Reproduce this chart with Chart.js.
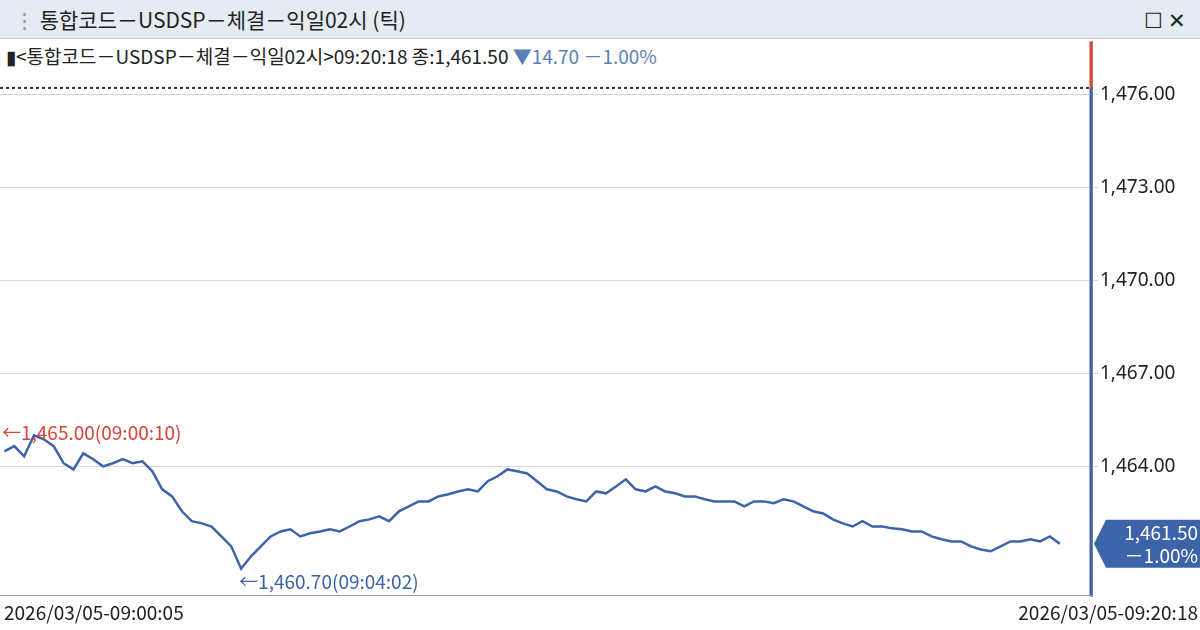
<!DOCTYPE html>
<html><head><meta charset="utf-8">
<script src="https://cdn.jsdelivr.net/npm/chart.js@4/dist/chart.umd.min.js"></script>
<style>
body{margin:0;width:1200px;height:630px;background:#fff;font-family:"Noto Sans CJK KR","Noto Sans",sans-serif;overflow:hidden;position:relative}
#bar{position:absolute;left:0;top:0;width:1200px;height:38px;background:#e4ebf3;border-bottom:1px solid #c6d0dc;font-size:21px;color:#222;line-height:38px;z-index:3}
#bar span{margin-left:14px}
#hdr{position:absolute;left:6px;top:42px;font-size:19px;color:#222;z-index:2;background:#fff}
#hdr .b{color:#5a7fb5}
#wrap{position:absolute;left:0;top:28px;width:1200px;height:582px}
.bot{position:absolute;top:598px;font-size:19px;color:#222}
#line{position:absolute;left:0;top:595px;width:1092px;height:1px;background:#999}
</style></head><body>
<div id="bar"><span style="color:#999">⋮</span> 통합코드－USDSP－체결－익일02시 (틱)<span style="position:absolute;right:14px;top:0">☐ ✕</span></div>
<div id="hdr">▮&lt;통합코드－USDSP－체결－익일02시&gt;09:20:18 종:1,461.50 <span class="b">▼14.70 －1.00%</span></div>
<div id="wrap"><canvas id="c"></canvas></div>
<div id="line"></div>
<div class="bot" style="left:4px">2026/03/05-09:00:05</div>
<div class="bot" style="right:2px">2026/03/05-09:20:18</div>
<script>
const prices=[1464.48,1464.65,1464.32,1465.00,1464.87,1464.65,1464.10,1463.90,1464.42,1464.23,1464.00,1464.10,1464.23,1464.10,1464.16,1463.84,1463.26,1463.03,1462.55,1462.23,1462.16,1462.06,1461.74,1461.42,1460.70,1461.10,1461.42,1461.74,1461.90,1461.97,1461.74,1461.84,1461.90,1461.97,1461.90,1462.06,1462.23,1462.29,1462.39,1462.23,1462.55,1462.71,1462.87,1462.87,1463.03,1463.10,1463.19,1463.26,1463.19,1463.52,1463.68,1463.90,1463.84,1463.77,1463.52,1463.26,1463.19,1463.03,1462.94,1462.87,1463.19,1463.13,1463.35,1463.58,1463.26,1463.19,1463.35,1463.19,1463.13,1463.03,1463.03,1462.94,1462.87,1462.87,1462.87,1462.71,1462.87,1462.87,1462.81,1462.94,1462.87,1462.71,1462.55,1462.48,1462.29,1462.16,1462.06,1462.23,1462.06,1462.06,1462.00,1461.97,1461.90,1461.90,1461.74,1461.65,1461.58,1461.58,1461.42,1461.32,1461.26,1461.42,1461.58,1461.58,1461.65,1461.58,1461.74,1461.50];
const times=prices.map((p,i)=>5+i*11.2);
const yTicks=[1464,1467,1470,1473,1476];
const prevClose=1476.2;
const fmt=v=>v.toLocaleString('en-US',{minimumFractionDigits:2,maximumFractionDigits:2});
const deco={id:'deco',afterDraw(ch){
 const c=ch.ctx,x=ch.scales.x,y=ch.scales.y,a=ch.chartArea;
 c.save();
 c.setLineDash([3,3]);c.strokeStyle='#333';c.lineWidth=2;
 c.beginPath();c.moveTo(a.left,y.getPixelForValue(prevClose));c.lineTo(a.right,y.getPixelForValue(prevClose));c.stroke();
 c.setLineDash([]);
 const yc=y.getPixelForValue(prevClose);
 c.strokeStyle='#d9433a';c.lineWidth=3;c.beginPath();c.moveTo(a.right-1,a.top);c.lineTo(a.right-1,yc);c.stroke();
 c.strokeStyle='#3d64a8';c.beginPath();c.moveTo(a.right-1,yc);c.lineTo(a.right-1,a.bottom);c.stroke();
 c.font='19px "Noto Sans CJK KR",sans-serif';c.textBaseline='middle';
 const mi=prices.indexOf(Math.max(...prices)),ni=prices.indexOf(Math.min(...prices));
 c.fillStyle='#d9433a';c.fillText('←1,465.00(09:00:10)',2,y.getPixelForValue(prices[mi])-3);
 c.fillStyle='#3d64a8';c.fillText('←1,460.70(09:04:02)',x.getPixelForValue(times[ni])-2,y.getPixelForValue(prices[ni])+13);
 const ly=y.getPixelForValue(prices[prices.length-1]);
 c.fillStyle='#3d64a8';c.beginPath();c.moveTo(a.right+2,ly);c.lineTo(a.right+14,ly-24);c.lineTo(1200,ly-24);c.lineTo(1200,ly+24);c.lineTo(a.right+14,ly+24);c.closePath();c.fill();
 c.fillStyle='#fff';c.textAlign='right';c.fillText(fmt(prices[prices.length-1]),1198,ly-11);c.fillText('－1.00%',1198,ly+12);
 c.restore();}};
new Chart(document.getElementById('c'),{type:'line',
 data:{datasets:[{data:times.map((t,i)=>({x:t,y:prices[i]})),borderColor:'#3d64a8',borderWidth:2.5,pointRadius:0,tension:0}]},
 options:{responsive:true,maintainAspectRatio:false,animation:false,events:[],
  layout:{padding:0},
  plugins:{legend:{display:false},tooltip:{enabled:false}},
  scales:{x:{type:'linear',min:0,max:1240,display:false},
   y:{position:'right',min:1459.8,max:1477.7,afterFit(s){s.width=108},
    afterBuildTicks(s){s.ticks=yTicks.map(v=>({value:v}))},
    grid:{color:'#d8d8d8',drawTicks:true,tickLength:6},border:{color:'#999'},
    ticks:{color:'#222',font:{size:19,family:'"Noto Sans","Noto Sans CJK KR",sans-serif'},padding:2,callback:v=>fmt(v)}}}},
 plugins:[deco]});
</script></body></html>
